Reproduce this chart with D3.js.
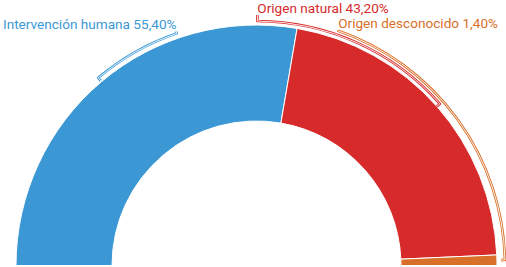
<!DOCTYPE html>
<html>
<head>
<meta charset="utf-8">
<script src="https://cdn.jsdelivr.net/npm/d3@7"></script>
<style>
  html, body { margin: 0; padding: 0; background: #fff; overflow: hidden; }
  svg { display: block; }
</style>
</head>
<body>
<div id="chart"></div>
<script>
// data
const categories = ["Intervención humana", "Origen natural", "Origen desconocido"];
const values = [55.40, 43.20, 1.40];
const colors = ["#3b98d5", "#d72a2b", "#d9702a"];

// label layout: angle (deg) where the bracket meets its label, bracket radius offset, text anchor
const labelAngles = [-19, 0.2, 19.2];
const bracketOffsets = [5, 4, 8];
const labelAnchors = ["end", "start", "start"];
const labelRise = [3, 7, 1.5];

const width = 506, height = 267;
const cx = 256.5, cy = 265.5;
const outerR = 240.5, innerR = 144.5;

const svg = d3.select("#chart").append("svg")
    .attr("width", width)
    .attr("height", height);

const g = svg.append("g").attr("transform", `translate(${cx},${cy})`);

const rows = categories.map((c, i) => ({ name: c, value: values[i], color: colors[i], i }));

const pie = d3.pie()
    .sort(null)
    .value(d => d.value)
    .startAngle(-Math.PI / 2)
    .endAngle(Math.PI / 2);

const arcs = pie(rows);

const arc = d3.arc().innerRadius(innerR).outerRadius(outerR);

// slices
g.selectAll(".slice")
    .data(arcs)
    .join("path")
    .attr("class", "slice")
    .attr("d", arc)
    .attr("fill", d => d.data.color)
    .attr("stroke", "#fff")
    .attr("stroke-width", 1);

// point helper: d3 angle is measured from 12 o'clock, clockwise
const pt = (r, a) => [r * Math.sin(a), -r * Math.cos(a)];

const fmt = v => v.toFixed(2).replace(".", ",") + "%";

arcs.forEach((d, i) => {
    const mid = (d.startAngle + d.endAngle) / 2;
    const rb = outerR + bracketOffsets[i];
    const end = labelAngles[i] * Math.PI / 180;

    // bracket: tick at slice middle, arc to label angle, then up to text
    const p = d3.path();
    const t0 = pt(rb - 4, mid);
    p.moveTo(t0[0], t0[1]);
    const a0 = pt(rb, mid);
    p.lineTo(a0[0], a0[1]);
    p.arc(0, 0, rb, mid - Math.PI / 2, end - Math.PI / 2, end < mid);
    const e = pt(rb, end);
    const ty = e[1] - labelRise[i];
    p.lineTo(e[0], ty + 1);

    const path = p.toString();
    g.append("path")
        .attr("d", path)
        .attr("fill", "none")
        .attr("stroke", d.data.color)
        .attr("stroke-width", 2.6)
        .attr("stroke-linejoin", "round");
    g.append("path")
        .attr("d", path)
        .attr("fill", "none")
        .attr("stroke", "#fff")
        .attr("stroke-width", 0.9);

    g.append("text")
        .attr("x", e[0])
        .attr("y", ty - 1)
        .attr("text-anchor", labelAnchors[i])
        .attr("font-family", "Roboto, 'Noto Sans', sans-serif")
        .attr("font-size", 13.6)
        .attr("fill", d.data.color)
        .text(`${d.data.name} ${fmt(d.data.value)}`);
});
</script>
</body>
</html>
